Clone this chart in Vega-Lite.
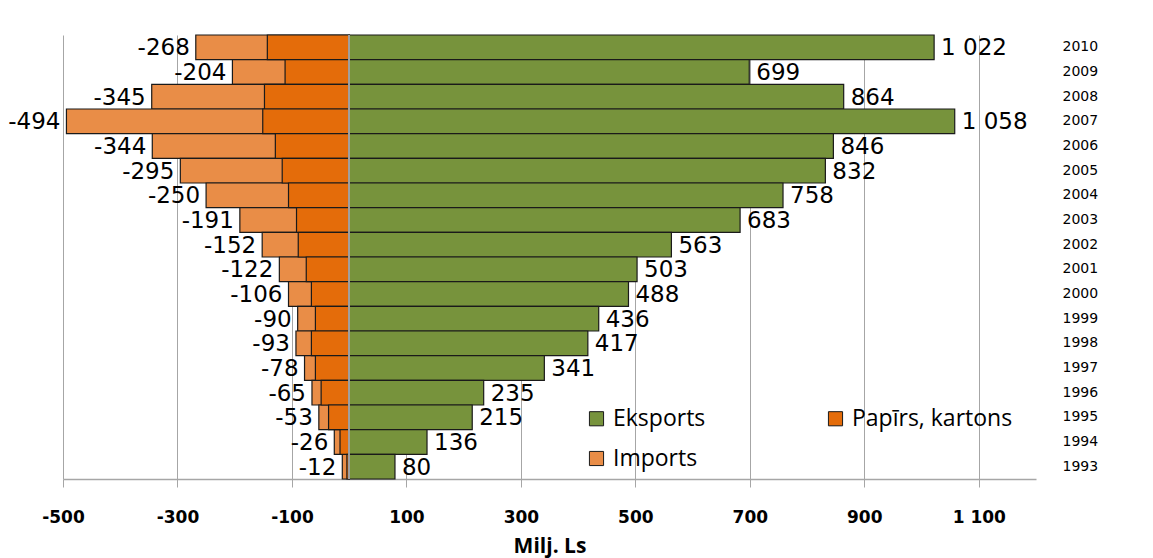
{
  "$schema": "https://vega.github.io/schema/vega-lite/v6.json",
  "autosize": {"type": "none"},
  "width": 973,
  "height": 444,
  "padding": {"left": 63, "top": 35, "right": 117, "bottom": 79},
  "background": "white",
  "config": {
    "view": {"stroke": null},
    "locale": {
      "number": {
        "decimal": ",",
        "thousands": "\u00a0",
        "grouping": [3],
        "currency": ["", ""],
        "minus": "-"
      }
    }
  },
  "data": {
    "values": [
      {"year": 2010, "series": "Eksports", "value": 1022},
      {"year": 2009, "series": "Eksports", "value": 699},
      {"year": 2008, "series": "Eksports", "value": 864},
      {"year": 2007, "series": "Eksports", "value": 1058},
      {"year": 2006, "series": "Eksports", "value": 846},
      {"year": 2005, "series": "Eksports", "value": 832},
      {"year": 2004, "series": "Eksports", "value": 758},
      {"year": 2003, "series": "Eksports", "value": 683},
      {"year": 2002, "series": "Eksports", "value": 563},
      {"year": 2001, "series": "Eksports", "value": 503},
      {"year": 2000, "series": "Eksports", "value": 488},
      {"year": 1999, "series": "Eksports", "value": 436},
      {"year": 1998, "series": "Eksports", "value": 417},
      {"year": 1997, "series": "Eksports", "value": 341},
      {"year": 1996, "series": "Eksports", "value": 235},
      {"year": 1995, "series": "Eksports", "value": 215},
      {"year": 1994, "series": "Eksports", "value": 136},
      {"year": 1993, "series": "Eksports", "value": 80},
      {"year": 2010, "series": "Imports", "value": -268},
      {"year": 2009, "series": "Imports", "value": -204},
      {"year": 2008, "series": "Imports", "value": -345},
      {"year": 2007, "series": "Imports", "value": -494},
      {"year": 2006, "series": "Imports", "value": -344},
      {"year": 2005, "series": "Imports", "value": -295},
      {"year": 2004, "series": "Imports", "value": -250},
      {"year": 2003, "series": "Imports", "value": -191},
      {"year": 2002, "series": "Imports", "value": -152},
      {"year": 2001, "series": "Imports", "value": -122},
      {"year": 2000, "series": "Imports", "value": -106},
      {"year": 1999, "series": "Imports", "value": -90},
      {"year": 1998, "series": "Imports", "value": -93},
      {"year": 1997, "series": "Imports", "value": -78},
      {"year": 1996, "series": "Imports", "value": -65},
      {"year": 1995, "series": "Imports", "value": -53},
      {"year": 1994, "series": "Imports", "value": -26},
      {"year": 1993, "series": "Imports", "value": -12},
      {"year": 2010, "series": "Papīrs, kartons", "value": -143},
      {"year": 2009, "series": "Papīrs, kartons", "value": -112},
      {"year": 2008, "series": "Papīrs, kartons", "value": -148},
      {"year": 2007, "series": "Papīrs, kartons", "value": -151},
      {"year": 2006, "series": "Papīrs, kartons", "value": -129},
      {"year": 2005, "series": "Papīrs, kartons", "value": -117},
      {"year": 2004, "series": "Papīrs, kartons", "value": -106},
      {"year": 2003, "series": "Papīrs, kartons", "value": -92},
      {"year": 2002, "series": "Papīrs, kartons", "value": -89},
      {"year": 2001, "series": "Papīrs, kartons", "value": -75},
      {"year": 2000, "series": "Papīrs, kartons", "value": -66},
      {"year": 1999, "series": "Papīrs, kartons", "value": -59},
      {"year": 1998, "series": "Papīrs, kartons", "value": -66},
      {"year": 1997, "series": "Papīrs, kartons", "value": -59},
      {"year": 1996, "series": "Papīrs, kartons", "value": -49},
      {"year": 1995, "series": "Papīrs, kartons", "value": -36},
      {"year": 1994, "series": "Papīrs, kartons", "value": -16},
      {"year": 1993, "series": "Papīrs, kartons", "value": -4}
    ]
  },
  "encoding": {
    "y": {
      "field": "year",
      "type": "ordinal",
      "sort": "descending",
      "scale": {"paddingInner": 0, "paddingOuter": 0},
      "axis": {
        "orient": "right",
        "title": null,
        "domain": false,
        "ticks": false,
        "labelAlign": "left",
        "labelPadding": 26,
        "labelFont": "DejaVu Sans",
        "labelFontSize": 14,
        "labelColor": "#000000"
      }
    },
    "x": {
      "field": "value",
      "type": "quantitative",
      "stack": null,
      "scale": {"domain": [-500, 1200], "nice": false, "zero": false},
      "axis": {
        "values": [-500, -300, -100, 100, 300, 500, 700, 900, 1100],
        "format": ",d",
        "labelFlush": false,
        "grid": true,
        "gridColor": "#a6a6a6",
        "gridWidth": 1,
        "domainColor": "#a6a6a6",
        "domainWidth": 1.5,
        "tickColor": "#a6a6a6",
        "tickSize": 8,
        "labelPadding": 22,
        "labelFont": "DejaVu Sans",
        "labelFontWeight": "bold",
        "labelFontSize": 17,
        "labelColor": "#000000",
        "title": "Milj. Ls",
        "titleFont": "Open Sans",
        "titleFontWeight": "bold",
        "titleFontSize": 21,
        "titleColor": "#000000",
        "titlePadding": 10
      }
    }
  },
  "layer": [
    {
      "mark": {"type": "bar", "stroke": "#1a1a1a", "strokeWidth": 1.2},
      "encoding": {
        "color": {
          "field": "series",
          "type": "nominal",
          "scale": {
            "domain": ["Eksports", "Papīrs, kartons", "Imports"],
            "range": ["#77933C", "#E46C0A", "#E98D47"]
          },
          "legend": {
            "title": null,
            "orient": "none",
            "legendX": 522,
            "legendY": 372,
            "direction": "horizontal",
            "columns": 2,
            "columnPadding": 118,
            "rowPadding": 16,
            "symbolType": "square",
            "symbolSize": 200,
            "symbolStrokeColor": "#1a1a1a",
            "symbolStrokeWidth": 1,
            "labelFont": "Open Sans",
            "labelFontSize": 23,
            "labelColor": "#000000",
            "labelOffset": 5,
            "labelLimit": 400
          }
        },
        "order": {"field": "series", "sort": "ascending"}
      }
    },
    {
      "mark": {"type": "rule", "color": "#a0a0a0", "strokeWidth": 1.5},
      "encoding": {"x": {"datum": 0}, "y": null}
    },
    {
      "transform": [{"filter": "datum.series === 'Eksports'"}],
      "mark": {"type": "text", "align": "left", "baseline": "middle", "dx": 7, "dy": 1, "font": "DejaVu Sans", "fontSize": 23, "color": "#000000"},
      "encoding": {"text": {"field": "value", "type": "quantitative", "format": ",d"}}
    },
    {
      "transform": [{"filter": "datum.series === 'Imports'"}],
      "mark": {"type": "text", "align": "right", "baseline": "middle", "dx": -6, "dy": 1, "font": "DejaVu Sans", "fontSize": 23, "color": "#000000"},
      "encoding": {"text": {"field": "value", "type": "quantitative", "format": ",d"}}
    }
  ]
}
